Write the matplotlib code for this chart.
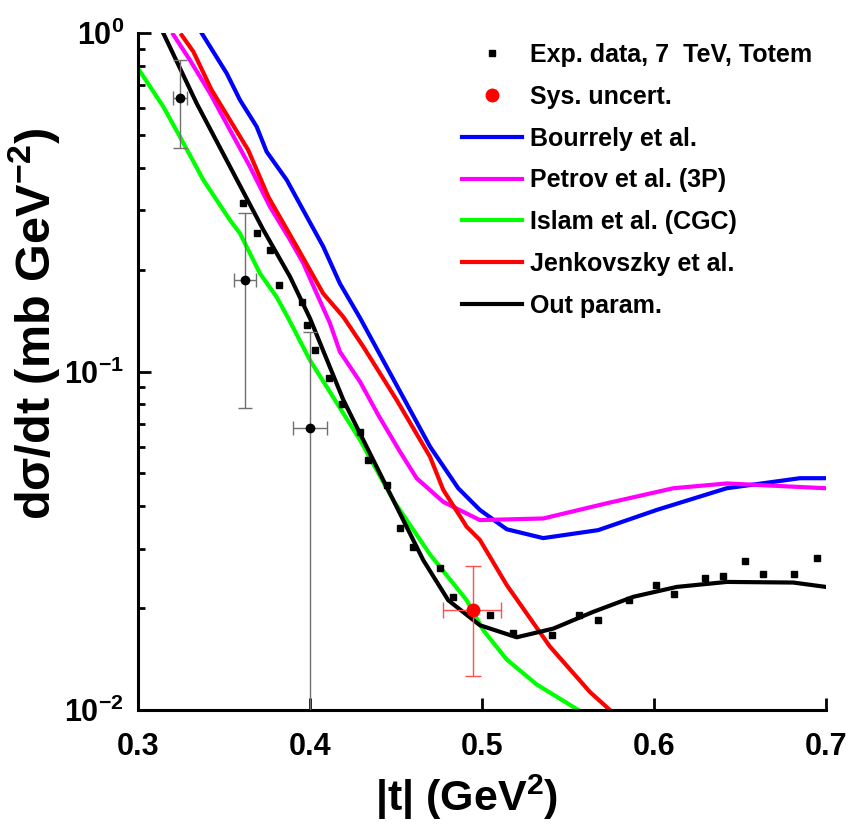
import numpy as np
import matplotlib
matplotlib.use("Agg")
import matplotlib.pyplot as plt
from matplotlib.ticker import FixedLocator, LogLocator, NullFormatter

plt.rcParams["font.family"] = ["Liberation Sans", "DejaVu Sans"]
plt.rcParams["font.weight"] = "bold"
plt.rcParams["mathtext.fontset"] = "custom"
plt.rcParams["mathtext.rm"] = "Liberation Sans:bold"
plt.rcParams["mathtext.it"] = "Liberation Sans:bold"
plt.rcParams["mathtext.bf"] = "Liberation Sans:bold"

# TOTEM 7 TeV points
t_exp = [0.3612, 0.369, 0.3767, 0.3822, 0.3951, 0.398, 0.4029, 0.411, 0.4188,
         0.429, 0.4339, 0.4446, 0.4523, 0.460, 0.4756, 0.4833, 0.5047, 0.5178,
         0.541, 0.5566, 0.5673, 0.5856, 0.6012, 0.6116, 0.6297, 0.640, 0.653,
         0.6636, 0.6817, 0.6947]
ds_exp = [0.314, 0.256, 0.229, 0.180, 0.160, 0.137, 0.116, 0.096, 0.080,
          0.0664, 0.0548, 0.0462, 0.0344, 0.0304, 0.0262, 0.0216, 0.0191, 0.0169,
          0.0167, 0.0191, 0.0184, 0.0211, 0.0234, 0.0220, 0.0245, 0.0249, 0.0275,
          0.0253, 0.0253, 0.0281]

# points with error bars
t_err = [0.3244, 0.3622, 0.400]
ds_err = [0.641, 0.187, 0.068]
ds_err_lo = [0.456, 0.0779, 0.005]
ds_err_hi = [0.832, 0.294, 0.131]
t_err_half = [0.0043, 0.0066, 0.010]

# systematic uncertainty point
t_sys = 0.4946
ds_sys = 0.0197
ds_sys_lo, ds_sys_hi = 0.0126, 0.0266
t_sys_lo, t_sys_hi = 0.4775, 0.5108

t_bourrely = [0.337, 0.3516, 0.3593, 0.369, 0.3748, 0.3865, 0.3981, 0.4077, 0.4174,
              0.4291, 0.4698, 0.4862, 0.4988, 0.5144, 0.5356, 0.5676, 0.6016, 0.6423,
              0.6849, 0.700]
ds_bourrely = [1.0, 0.760, 0.634, 0.529, 0.446, 0.368, 0.287, 0.234, 0.182,
               0.144, 0.060, 0.0452, 0.039, 0.0342, 0.0322, 0.034, 0.039, 0.0452,
               0.0484, 0.0484]

t_petrov = [0.3205, 0.3302, 0.3419, 0.3535, 0.3651, 0.3767, 0.3884, 0.3961, 0.4039,
            0.4116, 0.4174, 0.4291, 0.4397, 0.4523, 0.462, 0.4775, 0.4988, 0.5356,
            0.5725, 0.6112, 0.6423, 0.700]
ds_petrov = [0.99, 0.832, 0.664, 0.517, 0.403, 0.307, 0.245, 0.209, 0.170,
             0.139, 0.1144, 0.0933, 0.0744, 0.058, 0.0484, 0.0412, 0.0364, 0.0368,
             0.0408, 0.0452, 0.0467, 0.0452]

t_islam = [0.3, 0.3147, 0.3244, 0.338, 0.3535, 0.3593, 0.3709, 0.3806, 0.3874,
           0.400, 0.4291, 0.4484, 0.4698, 0.4911, 0.5008, 0.5144, 0.5318, 0.556]
ds_islam = [0.787, 0.606, 0.494, 0.368, 0.280, 0.256, 0.195, 0.166, 0.1436,
            0.108, 0.0628, 0.0417, 0.0288, 0.0211, 0.0172, 0.0141, 0.0119, 0.010]

t_jenk = [0.3254, 0.3322, 0.3428, 0.3535, 0.3641, 0.3758, 0.3923, 0.4077, 0.4194,
          0.431, 0.4504, 0.4698, 0.4775, 0.4911, 0.4988, 0.5144, 0.5395, 0.5628,
          0.5744]
ds_jenk = [0.986, 0.881, 0.679, 0.553, 0.451, 0.328, 0.234, 0.170, 0.145,
           0.1184, 0.0824, 0.056, 0.0447, 0.0348, 0.0318, 0.0234, 0.0154, 0.0113,
           0.010]

t_ours = [0.3147, 0.3341, 0.3535, 0.3729, 0.3884, 0.400, 0.4194, 0.4426, 0.4659,
          0.4804, 0.4988, 0.5202, 0.5415, 0.5647, 0.588, 0.6132, 0.6423, 0.681, 0.700]
ds_ours = [1.0, 0.620, 0.403, 0.262, 0.1906, 0.1436, 0.0824, 0.0478, 0.0277,
           0.0211, 0.0178, 0.0164, 0.0174, 0.0195, 0.0216, 0.0231, 0.0239, 0.0238, 0.0231]

fig = plt.figure(figsize=(8.48, 8.36), dpi=100)
ax = fig.add_axes([0.1627, 0.1507, 0.8113, 0.8098])

lw = 3
ax.plot(t_exp, ds_exp, "s", color="black", ms=5, label="Exp. data, 7  TeV, Totem", zorder=5)
ax.plot([], [], "o", color="red", ms=9, label="Sys. uncert.")
ax.plot(t_bourrely, ds_bourrely, color="#0000ff", lw=lw, label="Bourrely et al.")
ax.plot(t_petrov, ds_petrov, color="#ff00ff", lw=lw, label="Petrov et al. (3P)")
ax.plot(t_islam, ds_islam, color="#00ff00", lw=lw, label="Islam et al. (CGC)")
ax.plot(t_jenk, ds_jenk, color="#ff0000", lw=lw, label="Jenkovszky et al.")
ax.plot(t_ours, ds_ours, color="black", lw=lw, label="Out param.")

ds_err = np.array(ds_err)
yerr = [ds_err - np.array(ds_err_lo), np.array(ds_err_hi) - ds_err]
ax.errorbar(t_err, ds_err, yerr=yerr, xerr=t_err_half, fmt="o", color="black",
            ms=6, ecolor="#707070", elinewidth=1, capsize=5, capthick=1, zorder=6)
ax.errorbar([t_sys], [ds_sys], yerr=[[ds_sys - ds_sys_lo], [ds_sys_hi - ds_sys]],
            xerr=[[t_sys - t_sys_lo], [t_sys_hi - t_sys]], fmt="o", color="red",
            ms=9, ecolor="#ff5050", elinewidth=1, capsize=6, capthick=1, zorder=6)

ax.set_xlim(0.3, 0.7)
ax.set_yscale("log")
ax.set_ylim(1e-2, 1)

ax.xaxis.set_major_locator(FixedLocator([0.3, 0.4, 0.5, 0.6, 0.7]))
ax.set_xticklabels(["0.3", "0.4", "0.5", "0.6", "0.7"])
ax.yaxis.set_major_locator(FixedLocator([1e-2, 1e-1, 1]))
ax.set_yticklabels([r"$10^{-2}$", r"$10^{-1}$", r"$10^{0}$"])
ax.yaxis.set_minor_locator(LogLocator(base=10, subs=np.arange(2, 10)))
ax.yaxis.set_minor_formatter(NullFormatter())

for side in ["top", "right"]:
    ax.spines[side].set_visible(False)
for side in ["left", "bottom"]:
    ax.spines[side].set_linewidth(2.2)

ax.tick_params(axis="both", which="major", direction="in", length=9, width=2,
               labelsize=22)
ax.tick_params(axis="x", which="major", pad=16)
ax.tick_params(axis="y", which="major", pad=10)
ax.tick_params(axis="y", which="minor", direction="in", length=5, width=2)

ax.set_xlabel(r"|t| (GeV$^{2}$)", fontsize=31, fontweight="bold")
ax.xaxis.set_label_coords(0.477, -0.092)
ax.set_ylabel(r"d$\sigma$/dt (mb GeV$^{-2}$)", fontsize=35, fontweight="bold")
ax.yaxis.set_label_coords(-0.11, 0.57)

leg = ax.legend(loc="upper left", bbox_to_anchor=(0.471, 0.985), frameon=False,
                fontsize=18, handlelength=2.4, handletextpad=0.3, labelspacing=0.71,
                borderaxespad=0, borderpad=0, numpoints=1)

fig.savefig("out.png", dpi=100)
